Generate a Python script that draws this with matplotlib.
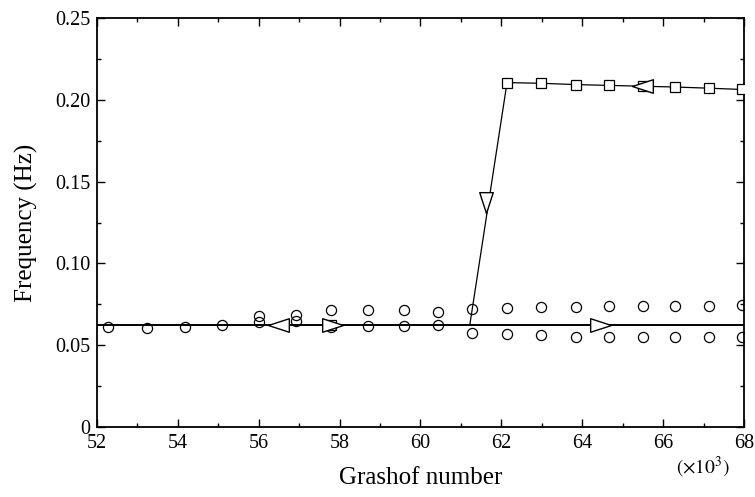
import matplotlib
matplotlib.use("Agg")
import matplotlib.pyplot as plt
from matplotlib.path import Path
import numpy as np

plt.rcParams['font.family'] = ['Liberation Serif', 'DejaVu Serif']
plt.rcParams['mathtext.fontset'] = 'stix'

# Circles: single branch (low Gr)
circ_single_x = [52.27, 53.24, 54.18, 55.09]
circ_single_y = [0.061, 0.0603, 0.0609, 0.0622]
# Circles: two frequencies (lower / upper)
circ_two_x = [56.01, 56.92, 57.79, 58.70, 59.59, 60.43, 61.27, 62.14, 62.98, 63.84,
              64.66, 65.50, 66.30, 67.13, 67.95]
circ_low_y = [0.0641, 0.065, 0.061, 0.062, 0.062, 0.0625, 0.0575, 0.0568, 0.0561,
              0.0553, 0.0553, 0.0553, 0.0553, 0.0553, 0.0553]
circ_up_y = [0.068, 0.0685, 0.0715, 0.0715, 0.0715, 0.0703, 0.0724, 0.0729, 0.0732,
             0.0732, 0.074, 0.0742, 0.0742, 0.0742, 0.0745]

# Squares: upper branch
sq_x = [62.14, 62.98, 63.84, 64.66, 65.50, 66.30, 67.13, 67.95]
sq_y = [0.2105, 0.2101, 0.2093, 0.2088, 0.2083, 0.2078, 0.2071, 0.2063]
sq_extra_x = [57.79]
sq_extra_y = [0.0622]

# Path lines
base_x = [52.0, 68.0]
base_y = [0.0625, 0.0625]
jump_x = [61.22, 62.14]
jump_y = [0.0625, 0.2105]

# Arrow heads (tip positions) and directions
arrow_right = [(58.08, 0.0625), (64.72, 0.0625)]
arrow_left = [(56.22, 0.0625), (65.22, 0.2086)]
arrow_down = [(61.63, 0.131)]

xticks = [52, 54, 56, 58, 60, 62, 64, 66, 68]
yticks = [0, 0.05, 0.10, 0.15, 0.20, 0.25]
ytick_labels = ['0', '0.05', '0.10', '0.15', '0.20', '0.25']

fig = plt.figure(figsize=(7.55, 4.97), dpi=100)
ax = fig.add_axes([0.1285, 0.1408, 0.8569, 0.823])

ax.plot(base_x, base_y, color='black', lw=1.4, zorder=2)
ax.plot(jump_x, jump_y, color='black', lw=0.9, zorder=2)
ax.plot(sq_x, sq_y, color='black', lw=0.9, marker='s', ms=7, mfc='white',
        mec='black', mew=0.9, zorder=3)
ax.plot(sq_extra_x, sq_extra_y, ls='none', marker='s', ms=7, mfc='white',
        mec='black', mew=0.9, zorder=3)

ckw = dict(ls='none', marker='o', ms=7.3, mfc='none', mec='black', mew=0.9, zorder=4)
ax.plot(circ_single_x, circ_single_y, **ckw)
ax.plot(circ_two_x, circ_low_y, **ckw)
ax.plot(circ_two_x, circ_up_y, **ckw)

# elongated triangle markers with the tip at the reference point
tri_r = Path([(0, 0), (-2, 0.65), (-2, -0.65), (0, 0)], closed=True)
tri_l = Path([(0, 0), (2, 0.65), (2, -0.65), (0, 0)], closed=True)
tri_d = Path([(0, 0), (0.65, 2), (-0.65, 2), (0, 0)], closed=True)
akw = dict(ls='none', mfc='white', mec='black', mew=1.0, zorder=5)
ax.plot([p[0] for p in arrow_right], [p[1] for p in arrow_right], marker=tri_r, ms=30, **akw)
ax.plot([p[0] for p in arrow_left], [p[1] for p in arrow_left], marker=tri_l, ms=30, **akw)
ax.plot([p[0] for p in arrow_down], [p[1] for p in arrow_down], marker=tri_d, ms=30, **akw)

ax.set_xlim(52, 68)
ax.set_ylim(0, 0.25)
ax.set_xticks(xticks)
ax.set_xticklabels([str(t) for t in xticks])
ax.set_xticks(np.arange(52, 68.01, 1), minor=True)
ax.set_yticks(yticks)
ax.set_yticklabels(ytick_labels)
ax.set_yticks(np.arange(0, 0.2501, 0.025), minor=True)
ax.tick_params(which='both', direction='in', top=True, right=True, labelsize=14.5,
               width=1.0, pad=5)
ax.tick_params(which='major', length=6)
ax.tick_params(which='minor', length=3)
for s in ax.spines.values():
    s.set_linewidth(1.3)

ax.set_xlabel('Grashof number', fontsize=18, labelpad=10)
ax.set_ylabel('Frequency (Hz)', fontsize=18, labelpad=12)
fig.text(0.931, 0.06, r'$(\times 10^3)$', fontsize=14, ha='center', va='center')

fig.savefig('out.png', dpi=100)
